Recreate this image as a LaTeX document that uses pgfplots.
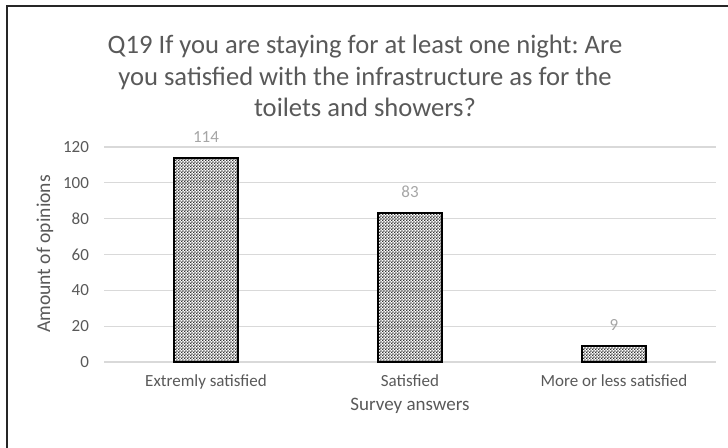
\documentclass[border=0pt]{standalone}
\usepackage{fontspec}
\setmainfont{Carlito}
\usepackage{pgfplots}
\pgfplotsset{compat=1.18}
\usetikzlibrary{patterns.meta}

% fine checkerboard fill for the bars
\tikzdeclarepattern{
  name=finecheck,
  type=uncolored,
  bottom left={(0pt,0pt)},
  top right={(1.6pt,1.6pt)},
  tile size={(1.6pt,1.6pt)},
  code={
    \pgfpathrectangle{\pgfpointorigin}{\pgfpoint{0.8pt}{0.8pt}}
    \pgfpathrectangle{\pgfpoint{0.8pt}{0.8pt}}{\pgfpoint{0.8pt}{0.8pt}}
    \pgfusepath{fill}
  }
}

\definecolor{ticktext}{HTML}{595959}
\definecolor{gridgray}{HTML}{D9D9D9}
\definecolor{valgray}{HTML}{A6A6A6}

\begin{document}
\frenchspacing
\begin{tikzpicture}
\useasboundingbox (0,0) rectangle (364pt,224pt);
% chart frame
\draw[line width=0.9pt, black!85] (3.5pt,-2pt) -- (3.5pt,221pt) -- (370pt,221pt);

% title
\node[align=center, font=\fontsize{13.3}{15.7}\selectfont, text=ticktext]
  at (182.5pt,186pt)
  {Q19 If you are staying for at least one night: Are\\
   you satisfied with the infrastructure as for the\\
   toilets and showers?};

\begin{axis}[
  at={(52pt,43pt)}, anchor=south west,
  width=306pt, height=107.5pt, scale only axis,
  xmin=-0.5, xmax=2.5, ymin=0, ymax=120,
  ytick={0,20,...,120},
  xtick={0,1,2},
  xticklabels={Extremly satisfied, Satisfied, More or less satisfied},
  axis line style={draw=none},
  major tick length=0pt,
  ymajorgrids,
  grid style={draw=gridgray, line width=0.6pt},
  /pgf/number format/assume math mode=true,
  tick label style={font=\fontsize{8.5}{10}\selectfont, text=ticktext},
  yticklabel style={anchor=east, xshift=-4pt},
  xticklabel style={anchor=north, yshift=-3pt},
  ybar, bar width=32pt,
  nodes near coords,
  every node near coord/.append style={font=\fontsize{8.5}{10}\selectfont, text=valgray, yshift=4pt},
  clip=false,
]
\addplot[pattern=finecheck, pattern color=black!80, draw=black, line width=0.8pt]
  coordinates {(0,114) (1,83) (2,9)};
\end{axis}

% axis titles
\node[rotate=90, font=\fontsize{9.8}{11}\selectfont, text=ticktext] at (22.5pt,97pt) {Amount of opinions};
\node[font=\fontsize{9.5}{11}\selectfont, text=ticktext] at (205pt,21pt) {Survey answers};
\end{tikzpicture}
\end{document}
